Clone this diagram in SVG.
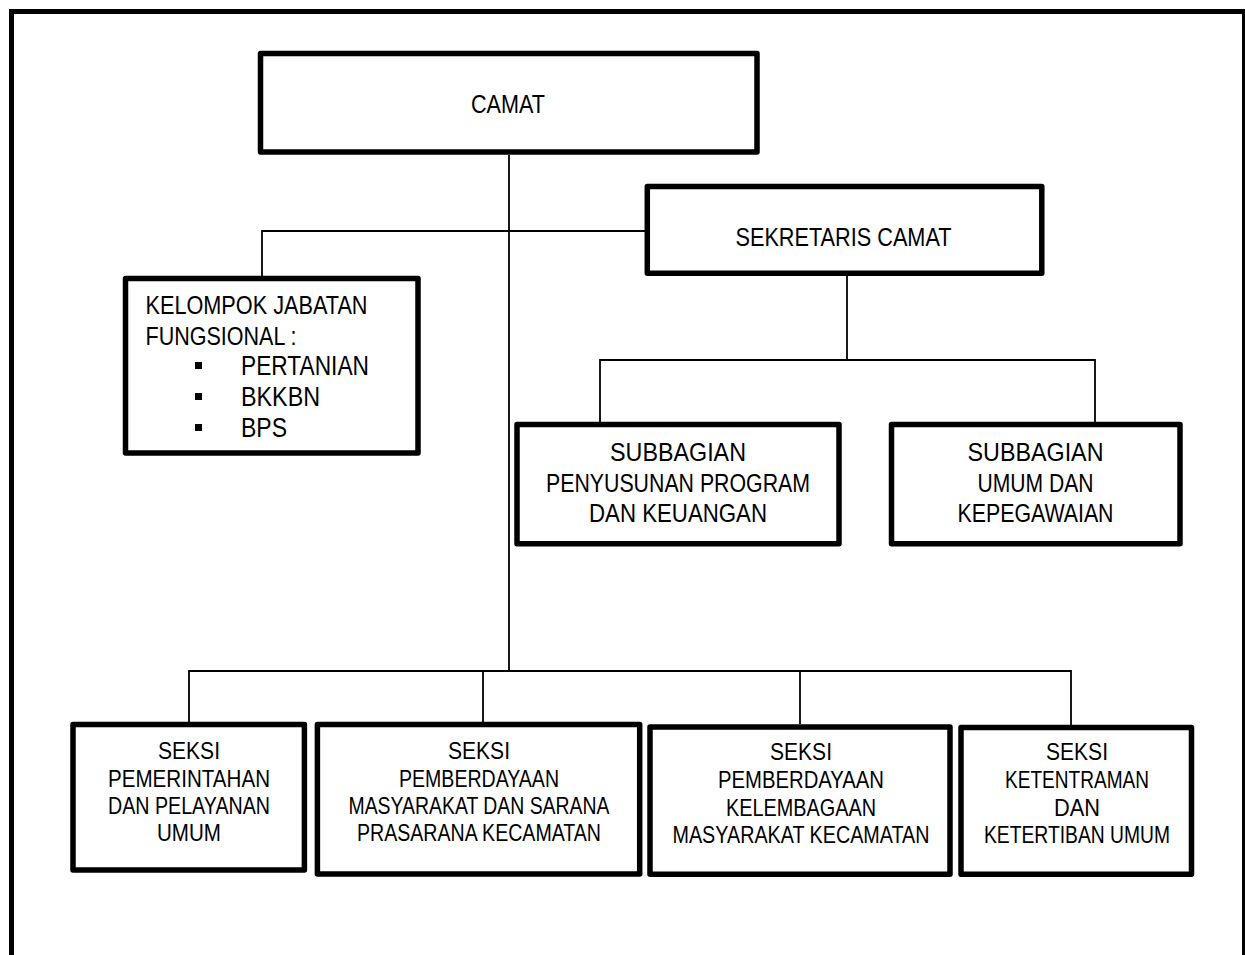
<svg xmlns="http://www.w3.org/2000/svg" width="1245" height="955" viewBox="0 0 1245 955">
<style>
.frame{fill:none;stroke:#000;stroke-width:5}
.box{fill:#fff;stroke:#000;stroke-width:5.5;stroke-linejoin:round}
.c{fill:none;stroke:#000;stroke-width:1.8}
text{font-family:"Liberation Sans Narrow","Liberation Sans",Arial,sans-serif;fill:#000}
.u{font-size:26px}
.l{font-size:23.4px;text-anchor:middle}
.m{text-anchor:middle}
.b{font-size:27.5px}
</style>
<rect class="frame" x="11.5" y="11.5" width="1233" height="1000"/>
<g id="connectors">
<path class="c" d="M509 155V671"/>
<path class="c" d="M645 231H262V276"/>
<path class="c" d="M847 276V360"/>
<path class="c" d="M600 422V360H1095V422"/>
<path class="c" d="M189 722V671H1071V725"/>
<path class="c" d="M483 671V722"/>
<path class="c" d="M800 671V724"/>
</g>
<g id="camat">
<rect class="box" x="260.5" y="53.5" width="496.5" height="98.5"/>
<text class="u m" x="508" y="112.7" textLength="74" lengthAdjust="spacingAndGlyphs">CAMAT</text>
</g>
<g id="sekretaris">
<rect class="box" x="647.3" y="186.5" width="394.5" height="86.8"/>
<text class="u m" x="843.5" y="246" textLength="216" lengthAdjust="spacingAndGlyphs">SEKRETARIS CAMAT</text>
</g>
<g id="fungsional">
<rect class="box" x="125.5" y="278.5" width="292.5" height="174.5"/>
<text class="u" x="145.5" y="314" textLength="222" lengthAdjust="spacingAndGlyphs">KELOMPOK JABATAN</text>
<text class="u" x="145.5" y="345" textLength="151" lengthAdjust="spacingAndGlyphs">FUNGSIONAL :</text>
<rect x="195" y="362" width="7" height="7"/>
<rect x="195" y="393" width="7" height="7"/>
<rect x="195" y="424" width="7" height="7"/>
<text class="b" x="241" y="375" textLength="128" lengthAdjust="spacingAndGlyphs">PERTANIAN</text>
<text class="b" x="241" y="406" textLength="79" lengthAdjust="spacingAndGlyphs">BKKBN</text>
<text class="b" x="241" y="437" textLength="46" lengthAdjust="spacingAndGlyphs">BPS</text>
</g>
<g id="subbagian-program">
<rect class="box" x="517" y="424.5" width="322" height="119.3"/>
<text class="u m" x="678" y="461" textLength="136" lengthAdjust="spacingAndGlyphs">SUBBAGIAN</text>
<text class="u m" x="678" y="491.5" textLength="264" lengthAdjust="spacingAndGlyphs">PENYUSUNAN PROGRAM</text>
<text class="u m" x="678" y="522" textLength="178" lengthAdjust="spacingAndGlyphs">DAN KEUANGAN</text>
</g>
<g id="subbagian-umum">
<rect class="box" x="891.5" y="424.5" width="288.5" height="119.3"/>
<text class="u m" x="1035.5" y="461" textLength="136" lengthAdjust="spacingAndGlyphs">SUBBAGIAN</text>
<text class="u m" x="1035.5" y="491.5" textLength="116" lengthAdjust="spacingAndGlyphs">UMUM DAN</text>
<text class="u m" x="1035.5" y="522" textLength="156" lengthAdjust="spacingAndGlyphs">KEPEGAWAIAN</text>
</g>
<g id="seksi-pemerintahan">
<rect class="box" x="73" y="724.5" width="231.4" height="145.5"/>
<text class="l" x="189" y="759" textLength="62" lengthAdjust="spacingAndGlyphs">SEKSI</text>
<text class="l" x="189" y="786.5" textLength="162" lengthAdjust="spacingAndGlyphs">PEMERINTAHAN</text>
<text class="l" x="189" y="814" textLength="162" lengthAdjust="spacingAndGlyphs">DAN PELAYANAN</text>
<text class="l" x="189" y="841" textLength="64" lengthAdjust="spacingAndGlyphs">UMUM</text>
</g>
<g id="seksi-pemberdayaan-masyarakat">
<rect class="box" x="317.4" y="724.5" width="322.3" height="149.5"/>
<text class="l" x="479" y="759" textLength="62" lengthAdjust="spacingAndGlyphs">SEKSI</text>
<text class="l" x="479" y="786.5" textLength="160" lengthAdjust="spacingAndGlyphs">PEMBERDAYAAN</text>
<text class="l" x="479" y="814" textLength="261" lengthAdjust="spacingAndGlyphs">MASYARAKAT DAN SARANA</text>
<text class="l" x="479" y="841" textLength="244" lengthAdjust="spacingAndGlyphs">PRASARANA KECAMATAN</text>
</g>
<g id="seksi-kelembagaan">
<rect class="box" x="650" y="727" width="300" height="147.3"/>
<text class="l" x="801" y="760" textLength="62" lengthAdjust="spacingAndGlyphs">SEKSI</text>
<text class="l" x="801" y="788" textLength="166" lengthAdjust="spacingAndGlyphs">PEMBERDAYAAN</text>
<text class="l" x="801" y="815.5" textLength="150" lengthAdjust="spacingAndGlyphs">KELEMBAGAAN</text>
<text class="l" x="801" y="843" textLength="257" lengthAdjust="spacingAndGlyphs">MASYARAKAT KECAMATAN</text>
</g>
<g id="seksi-ketentraman">
<rect class="box" x="961" y="727.5" width="230.5" height="146.8"/>
<text class="l" x="1077" y="760" textLength="62" lengthAdjust="spacingAndGlyphs">SEKSI</text>
<text class="l" x="1077" y="788" textLength="144" lengthAdjust="spacingAndGlyphs">KETENTRAMAN</text>
<text class="l" x="1077" y="815.5" textLength="46" lengthAdjust="spacingAndGlyphs">DAN</text>
<text class="l" x="1077" y="843" textLength="186" lengthAdjust="spacingAndGlyphs">KETERTIBAN UMUM</text>
</g>
</svg>
